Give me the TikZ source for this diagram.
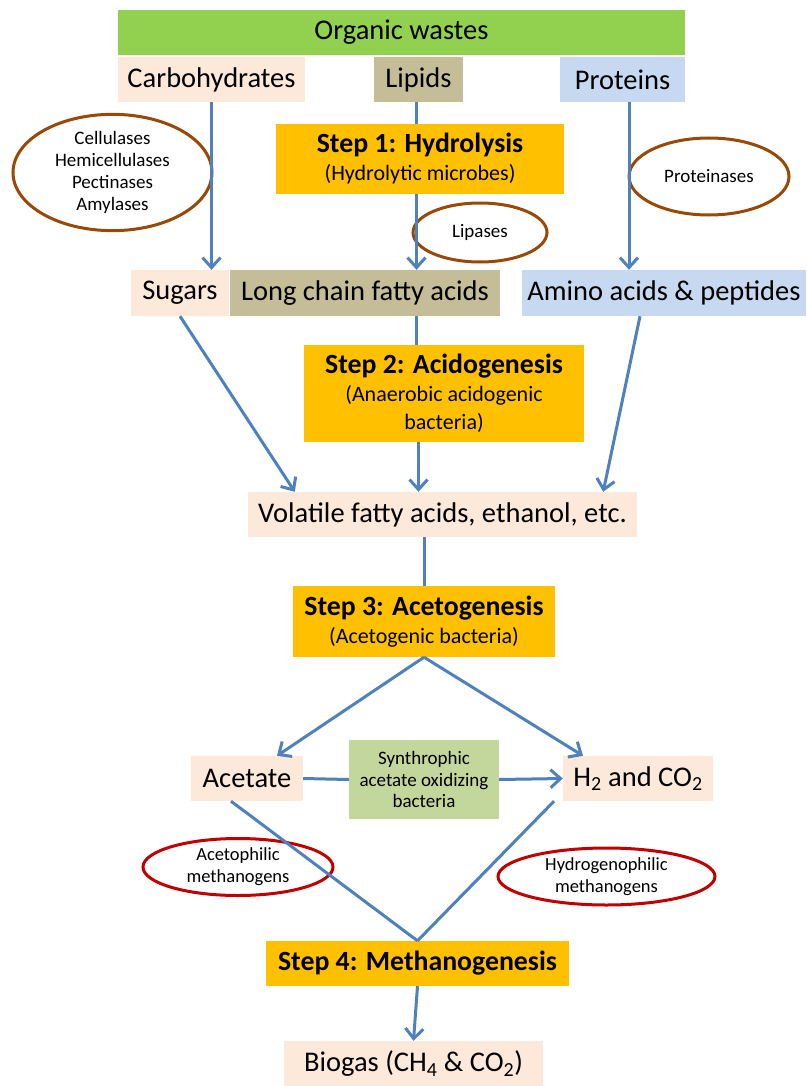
\documentclass[tikz,border=0pt]{standalone}
\usepackage{fontspec}
\setmainfont{Carlito}
\usetikzlibrary{arrows.meta,shapes.geometric,calc}
\definecolor{cgreen}{HTML}{92D050}
\definecolor{cpeach}{HTML}{FDE9D9}
\definecolor{ctan}{HTML}{C4BD97}
\definecolor{cblue}{HTML}{C6D9F1}
\definecolor{cyellow}{HTML}{FFC000}
\definecolor{csyn}{HTML}{C3D69B}
\definecolor{cred}{HTML}{C00000}
\definecolor{cbrown}{HTML}{984807}
\definecolor{carrow}{HTML}{4F81BD}
\tikzset{
  box/.style={rectangle, inner sep=0pt, align=center, font=\fontsize{28.5}{32}\selectfont},
  stepbox/.style={box, fill=cyellow, font=\fontsize{22}{28}\selectfont},
  enz/.style={ellipse, draw=cbrown, line width=3pt, inner sep=0pt, align=center, font=\fontsize{19}{22}\selectfont},
  meth/.style={ellipse, draw=cred, line width=3pt, inner sep=0pt, align=center, font=\fontsize{18.5}{22}\selectfont},
  flow/.style={draw=carrow, line width=3pt},
  arr/.style={flow, -{Straight Barb[length=10pt,width=18pt,line width=3pt]}},
}
\newcommand{\sttl}[1]{{\bfseries\fontsize{27.8}{32}\selectfont #1}}
\begin{document}
\begin{tikzpicture}[x=1pt,y=-1pt]
\useasboundingbox (0,0) rectangle (806,1086);
\fill[white] (0,0) rectangle (806,1086);
% top row
\node[box, fill=cgreen, minimum width=567, minimum height=45] (ow) at (401.5,32.5) {Organic wastes};
\node[box, fill=cpeach, minimum width=187, minimum height=45] (carb) at (211.5,79.5) {Carbohydrates};
\node[box, fill=ctan, minimum width=89, minimum height=45] (lip) at (418.5,79.5) {Lipids};
\node[box, fill=cblue, minimum width=125, minimum height=45] (prot) at (622.5,79.5) {Proteins};
% step 1
\node[stepbox, minimum width=288, minimum height=70] (s1) at (420,159) {\sttl{Step 1: Hydrolysis}\\(Hydrolytic microbes)};
% enzymes
\node[enz, minimum width=199, minimum height=105] (cel) at (112.5,172.5) {Cellulases\\Hemicellulases\\Pectinases\\Amylases};
\node[enz, minimum width=160, minimum height=77] (pro) at (709,176.5) {Proteinases};
\node[enz, minimum width=134, minimum height=59] (lipa) at (480,232.5) {Lipases};
% second row
\node[box, fill=cpeach, minimum width=98, minimum height=46] (sug) at (180,293) {Sugars};
\node[box, fill=ctan, minimum width=270, minimum height=46] (lcfa) at (365,293) {Long chain fatty acids};
\node[box, fill=cblue, minimum width=284, minimum height=46] (amino) at (664,293) {Amino acids \& peptides};
% step 2
\node[stepbox, minimum width=280, minimum height=97] (s2) at (444,393.5) {\sttl{Step 2: Acidogenesis}\\(Anaerobic acidogenic\\bacteria)};
% vfa
\node[box, fill=cpeach, minimum width=389, minimum height=45] (vfa) at (442.5,514.5) {Volatile fatty acids, ethanol, etc.};
% step 3
\node[stepbox, minimum width=262, minimum height=71] (s3) at (424,621.5) {\sttl{Step 3: Acetogenesis}\\(Acetogenic bacteria)};
% acetate row
\node[box, fill=cpeach, minimum width=112, minimum height=45] (ace) at (247,778.5) {Acetate};
\node[box, fill=cpeach, minimum width=150, minimum height=45] (h2) at (638,778.5) {H\textsubscript{2} and CO\textsubscript{2}};
\node[box, fill=csyn, minimum width=150, minimum height=79, font=\fontsize{19}{21.5}\selectfont] (syn) at (424,779.5) {Synthrophic\\acetate oxidizing\\bacteria};
% methanogens
\node[meth, minimum width=190, minimum height=57] (acm) at (238,867) {Acetophilic\\methanogens};
\node[meth, minimum width=217, minimum height=57] (hym) at (606.5,876.5) {Hydrogenophilic\\methanogens};
% step 4
\node[stepbox, minimum width=303, minimum height=45] (s4) at (417.5,963.5) {\sttl{Step 4: Methanogenesis}};
\node[box, fill=cpeach, minimum width=259, minimum height=46] (bio) at (413.5,1064) {Biogas (CH\textsubscript{4} \& CO\textsubscript{2})};
% connectors
\draw[arr] (carb.south) -- (carb.south |- sug.north);
\draw[flow] ($(lip.south)+(-2,0)$) -- ($(lip.south |- s1.north)+(-2,0)$);
\draw[arr] ($(s1.south -| lip.south)+(-2,0)$) -- ($(lip.south |- lcfa.north)+(-2,0)$);
\draw[arr] ($(prot.south)+(6.5,0)$) -- ($(prot.south |- amino.north)+(6.5,0)$);
\draw[flow] ($(lcfa.south -| lip.south)+(-2,0)$) -- ($(s2.north -| lip.south)+(-2,0)$);
\draw[arr] (sug.south) -- ($(vfa.north west)+(47,0)$);
\draw[arr] (s2.south -| lip.south) -- (vfa.north -| lip.south);
\draw[arr] ($(amino.south)+(-24,0)$) -- ($(vfa.north east)+(-34,0)$);
\draw[flow] (vfa.south -| s3.north) -- (s3.north);
\draw[arr] (s3.south) -- ($(ace.north)+(30,0)$);
\draw[arr] (s3.south) -- ($(h2.north)+(-55,0)$);
\draw[flow] (ace.east) -- (syn.west);
\draw[arr] (syn.east) -- (h2.west);
\draw[flow] ($(ace.south)+(-16,0)$) -- (s4.north);
\draw[flow] ($(h2.south)+(-84,0)$) -- (s4.north);
\draw[arr] (s4.south) -- (bio.north);
\end{tikzpicture}
\end{document}
